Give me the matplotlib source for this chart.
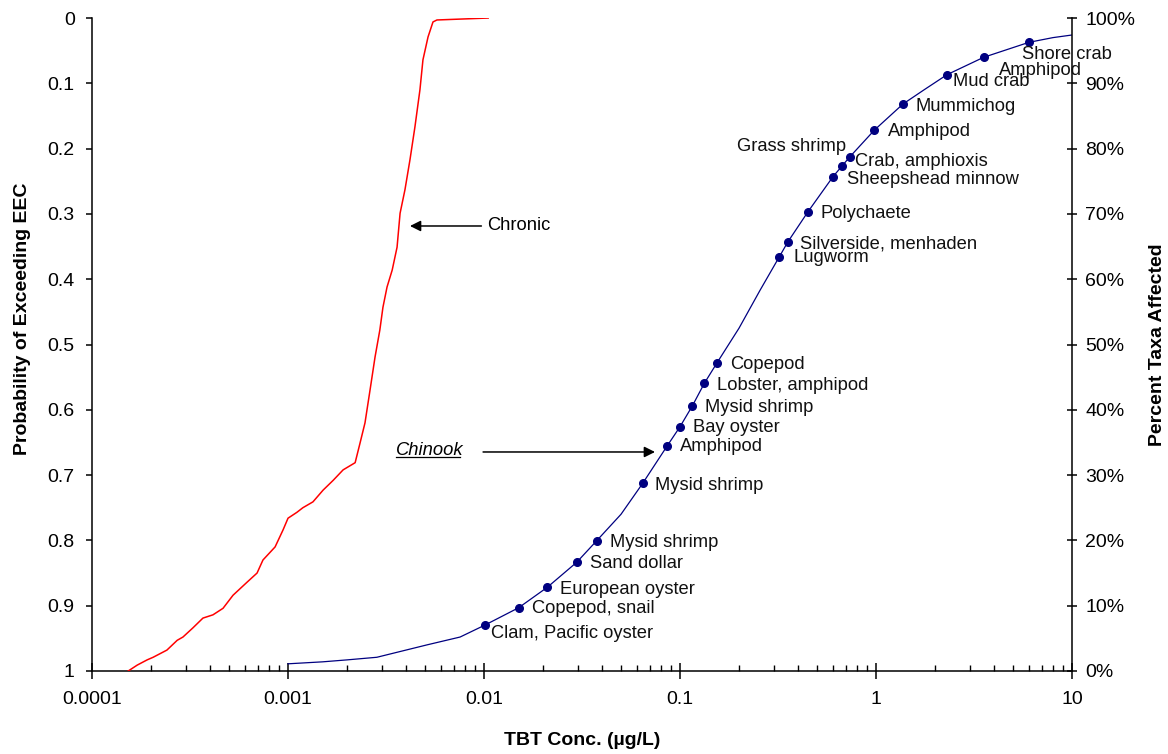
import numpy as np
import matplotlib.pyplot as plt
from matplotlib.ticker import FixedLocator, LogLocator, NullFormatter, FuncFormatter

plt.rcParams['font.family'] = ['Liberation Sans', 'DejaVu Sans']

# chronic exposure: probability of exceeding the EEC
chronic_conc = [1.53e-4, 1.70e-4, 1.91e-4, 2.05e-4, 2.41e-4, 2.72e-4, 2.91e-4, 3.27e-4,
                3.68e-4, 4.14e-4, 4.66e-4, 5.24e-4, 6.18e-4, 6.95e-4, 7.45e-4, 8.59e-4,
                9.43e-4, 1.00e-3, 1.11e-3, 1.19e-3, 1.34e-3, 1.51e-3, 1.70e-3, 1.91e-3,
                2.20e-3, 2.33e-3, 2.47e-3, 2.62e-3, 2.78e-3, 2.94e-3, 3.05e-3, 3.20e-3,
                3.40e-3, 3.60e-3, 3.73e-3, 3.95e-3, 4.19e-3, 4.44e-3, 4.71e-3, 4.88e-3,
                5.18e-3, 5.49e-3, 5.75e-3, 1.05e-2]
chronic_prob = [1.0, 0.991, 0.983, 0.979, 0.968, 0.953, 0.948, 0.934,
                0.919, 0.914, 0.904, 0.884, 0.864, 0.850, 0.830, 0.810,
                0.784, 0.766, 0.757, 0.750, 0.741, 0.723, 0.708, 0.692,
                0.681, 0.651, 0.620, 0.570, 0.519, 0.478, 0.443, 0.412,
                0.386, 0.351, 0.299, 0.263, 0.217, 0.167, 0.110, 0.064,
                0.029, 0.006, 0.003, 0.0]

# fitted species sensitivity curve (percent of taxa affected)
curve_conc = [0.001, 0.0015, 0.002, 0.00284, 0.00512, 0.00755, 0.01012, 0.01503, 0.02104,
              0.02972, 0.03758, 0.05, 0.06451, 0.08614, 0.1, 0.1155, 0.1331, 0.1539,
              0.2, 0.256, 0.3214, 0.3548, 0.4487, 0.6033, 0.6708, 0.7339, 0.9824,
              1.373, 1.758, 2.302, 3.540, 6.034, 8.0, 10.0]
curve_pct = [1.1, 1.4, 1.7, 2.1, 4.0, 5.2, 7.04, 9.69, 12.82,
             16.65, 19.95, 24.0, 28.74, 34.50, 37.41, 40.58, 44.06, 47.12,
             52.5, 58.3, 63.45, 65.70, 70.29, 75.70, 77.34, 78.71, 82.85,
             86.83, 89.0, 91.32, 93.98, 96.28, 97.0, 97.4]

# genus mean values
taxa_names = ['Clam, Pacific oyster', 'Copepod, snail', 'European oyster', 'Sand dollar',
              'Mysid shrimp', 'Mysid shrimp', 'Amphipod', 'Bay oyster', 'Mysid shrimp',
              'Lobster, amphipod', 'Copepod', 'Lugworm', 'Silverside, menhaden',
              'Polychaete', 'Sheepshead minnow', 'Grass shrimp', 'Crab, amphioxis',
              'Amphipod', 'Mummichog', 'Mud crab', 'Amphipod', 'Shore crab']
taxa_conc = [0.01012, 0.01503, 0.02104, 0.02972, 0.03758, 0.06451, 0.08614, 0.1,
             0.1155, 0.1331, 0.1539, 0.3214, 0.3548, 0.4487, 0.6033, 0.6708,
             0.7339, 0.9824, 1.373, 2.302, 3.540, 6.034]
taxa_pct = [7.04, 9.69, 12.82, 16.65, 19.95, 28.74, 34.50, 37.41,
            40.58, 44.06, 47.12, 63.45, 65.70, 70.29, 75.70, 77.34,
            78.71, 82.85, 86.83, 91.32, 93.98, 96.28]

# label offsets from each dot, in pixels (x right, y up)
label_offsets = [(6, -8), (13, -1), (13, -2), (13, -1), (13, -2), (12, -2), (13, -1),
                 (13, -1), (13, -1), (13, -2), (13, -1), (14, -1), (12, -2), (13, -1),
                 (14, -3), (4, 19), (5, -4), (13, -1), (13, -2), (6, -7), (15, -13),
                 (-7, -12)]

fs = 13.2
tfs = 14
fig = plt.figure(figsize=(11.68, 7.54), dpi=100)
ax = fig.add_axes([0.0788, 0.1101, 0.8390, 0.8660])
ax2 = ax.twinx()

ax.plot(chronic_conc, chronic_prob, color='#ff0000', lw=1.1, zorder=3)
ax.set_xscale('log')
ax.set_xlim(1e-4, 10)
ax.set_ylim(1, 0)

ax2.plot(curve_conc, curve_pct, color='#000080', lw=0.9)
ax2.plot(taxa_conc, taxa_pct, 'o', color='#000080', ms=5.5)
ax2.set_ylim(0, 100)

for name, cx, cy, off in zip(taxa_names, taxa_conc, taxa_pct, label_offsets):
    ha = 'right' if name == 'Grass shrimp' else 'left'
    ax2.annotate(name, (cx, cy), xytext=off, textcoords='offset pixels',
                 ha=ha, va='center', fontsize=fs, color='#111111')

# arrows
ax.annotate('Chronic', xy=(0.00419, 0.3185), xytext=(0.01035, 0.3185),
            ha='left', va='center', fontsize=fs,
            arrowprops=dict(arrowstyle='-|>', color='black', lw=1.1,
                            mutation_scale=16, shrinkA=2, shrinkB=0,
                            relpos=(0, 0.5)))
ax.text(0.003557, 0.6616, 'Chinook', ha='left', va='center', fontsize=fs,
        style='italic')
ax.plot([0.003557, 0.007570], [0.6723, 0.6723], color='black', lw=0.9)
ax.annotate('', xy=(0.07455, 0.6646), xytext=(0.00989, 0.6646),
            arrowprops=dict(arrowstyle='-|>', color='black', lw=1.1,
                            mutation_scale=16, shrinkA=0, shrinkB=0))

# axes styling
for a in (ax, ax2):
    a.spines['top'].set_visible(False)
    for s in ('left', 'right', 'bottom'):
        a.spines[s].set_linewidth(1.1)
ax.spines['right'].set_visible(False)
ax2.spines['left'].set_visible(False)
ax2.spines['bottom'].set_visible(False)

ax.xaxis.set_major_locator(FixedLocator([1e-4, 1e-3, 1e-2, 1e-1, 1, 10]))
ax.xaxis.set_major_formatter(FuncFormatter(lambda v, p: '%g' % v))
ax.xaxis.set_minor_locator(LogLocator(base=10, subs=np.arange(2, 10)))
ax.xaxis.set_minor_formatter(NullFormatter())
ax.tick_params(axis='x', which='major', direction='inout', length=11, width=1.1,
               labelsize=tfs, pad=9)
ax.tick_params(axis='x', which='minor', direction='in', length=4.5, width=1.0)

ax.set_yticks(np.arange(0, 1.01, 0.1))
ax.yaxis.set_major_formatter(FuncFormatter(lambda v, p: '%g' % round(v, 1)))
ax.tick_params(axis='y', direction='out', length=4.5, width=1.1, labelsize=tfs, pad=8)

ax2.set_yticks(np.arange(0, 101, 10))
ax2.yaxis.set_major_formatter(FuncFormatter(lambda v, p: '%d%%' % v))
ax2.tick_params(axis='y', direction='inout', length=7, width=1.1, labelsize=tfs, pad=6)

ax.set_xlabel('TBT Conc. (µg/L)', fontsize=14, fontweight='bold')
ax.xaxis.set_label_coords(0.5, -0.093)
ax.set_ylabel('Probability of Exceeding EEC', fontsize=14, fontweight='bold')
ax.yaxis.set_label_coords(-0.0622, 0.54)
ax2.set_ylabel('Percent Taxa Affected', fontsize=14, fontweight='bold')
ax2.yaxis.set_label_coords(1.0786, 0.5)

fig.savefig('out.png', dpi=100)
